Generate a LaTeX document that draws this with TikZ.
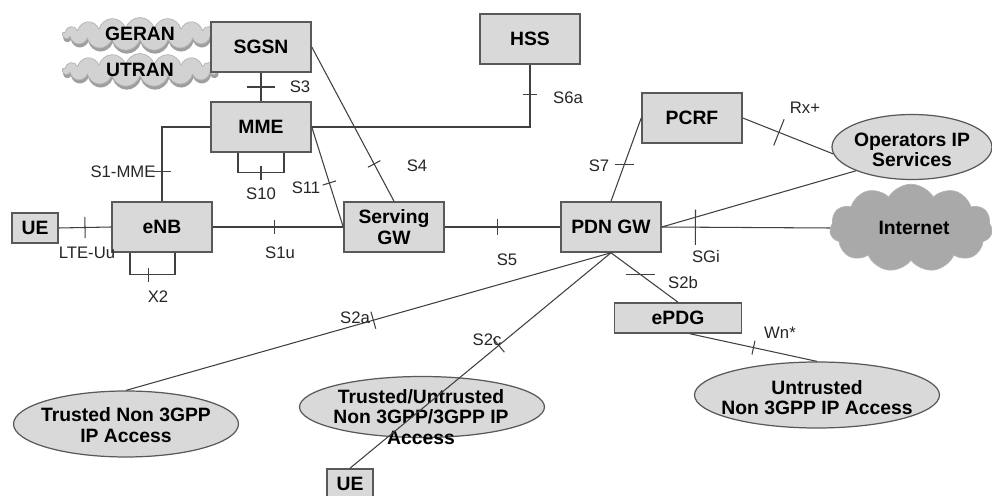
\documentclass[tikz,border=0pt]{standalone}
\usepackage{fontspec}
\setmainfont{Liberation Sans}
\usetikzlibrary{shapes.geometric,shapes.symbols,decorations.markings,shadows}

\definecolor{boxgray}{HTML}{D9D9D9}
\definecolor{cloudgray}{HTML}{D2D2D2}
\definecolor{netgray}{HTML}{A9A9A9}
\definecolor{linegray}{HTML}{404040}

\tikzset{
    conn/.style={draw=linegray, line width=0.6pt},
    box/.style={draw=gray!70!black, line width=0.9pt, fill=boxgray, minimum width=2cm, minimum height=1cm,
        inner sep=1pt, align=center, font=\fontsize{11}{11.5}\selectfont\bfseries},
    smallbox/.style={box, minimum width=0.92cm, minimum height=0.6cm},
    oval/.style={ellipse, draw=gray!70!black, line width=0.7pt, fill=boxgray, inner sep=0pt},
    ovaltext/.style={inner sep=0pt, align=center, font=\fontsize{11}{11.5}\selectfont\bfseries},
    smallcloud/.style={cloud, cloud puffs=17, cloud puff arc=150, cloud ignores aspect, draw=gray!60,
        fill=cloudgray, minimum width=3.1cm, minimum height=0.66cm,
        drop shadow={fill=gray!75, opacity=1, shadow xshift=0.5pt, shadow yshift=-2pt}},
    bigcloud/.style={cloud, cloud puffs=11, cloud puff arc=120, cloud ignores aspect, draw=gray!60,
        fill=netgray, minimum width=3.25cm, minimum height=1.75cm},
    iface/.style 2 args={postaction={decorate, decoration={markings,
        mark=at position #1 with {\draw[conn] (0,-#2) -- (0,#2);}}}},
    hiface/.style 2 args={postaction={decorate, decoration={markings,
        mark=at position #1 with {\pgftransformresetnontranslations \draw[conn] (-#2,0) -- (#2,0);}}}},
    ifl/.style={inner sep=1pt, text=black!85, font=\fontsize{9.5}{10}\selectfont},
}

\begin{document}
\begin{tikzpicture}[x=0.02cm, y=-0.02cm]
    \useasboundingbox (0,0) rectangle (992,496);
    \fill[white] (0,0) rectangle (992,496);

    \node[smallcloud] (geran) at (140,34) {};
    \node[ovaltext] (gerantext) at (140,34) {GERAN};
    \node[smallcloud] (utran) at (140,70) {};
    \node[ovaltext] (utrantext) at (140,70) {UTRAN};

    \node[box] (sgsn) at (261,47) {SGSN};
    \node[box] (mme) at (261,127) {MME};
    \node[box] (hss) at (530,39) {HSS};
    \node[box] (pcrf) at (692,118) {PCRF};
    \node[smallbox] (ue) at (35,228) {UE};
    \node[box] (enb) at (162,227) {eNB};
    \node[box] (sgw) at (394,227) {Serving\\GW};
    \node[box] (pdngw) at (611,227) {PDN GW};
    \node[box, minimum width=2.54cm, minimum height=0.6cm] (epdg) at (678,318) {ePDG};
    \node[smallbox] (uenon) at (350,484) {UE};

    \node[oval, minimum width=3.2cm, minimum height=1.3cm] (opsvc) at (912,147) {};
    \node[ovaltext] (opsvctext) at (912,150) {Operators IP\\Services};
    \node[bigcloud] (internet) at (911,228) {};
    \node[ovaltext] (internettext) at (914,228) {Internet};
    \node[oval, minimum width=4.5cm, minimum height=1.32cm] (trusted) at (126,424) {};
    \node[ovaltext] (trustedtext) at (126,425) {Trusted Non 3GPP\\IP Access};
    \node[oval, minimum width=4.9cm, minimum height=1.22cm] (trustun) at (422,407) {};
    \node[ovaltext] (trustuntext) at (421,417) {Trusted/Untrusted\\Non 3GPP/3GPP IP\\Access};
    \node[oval, minimum width=4.9cm, minimum height=1.32cm] (untrusted) at (817,395) {};
    \node[ovaltext] (untrustedtext) at (817,398) {Untrusted\\Non 3GPP IP Access};

    \draw[conn, iface={0.5}{8pt}] (sgsn.south) -- (mme.north);
    \draw[conn, iface={0.105}{4pt}] (hss.south) |- (mme.east);
    \draw[conn, iface={0.76}{5pt}] (mme.west) -| (enb.north);
    \draw[conn, iface={0.5}{4pt}] ([xshift=-0.46cm]mme.south) -- ++(0,20) -- ++(46,0) -- ++(0,-20);
    \draw[conn, iface={0.76}{4pt}] (sgsn.east) -- (sgw.north);
    \draw[conn, iface={0.56}{4pt}] (mme.east) -- (sgw.west);
    \draw[conn, iface={0.5}{6pt}] (ue.east) -- (enb.west);
    \draw[conn, iface={0.45}{4pt}] ([xshift=-0.64cm]enb.south) -- ++(0,22) -- ++(45,0) -- ++(0,-22);
    \draw[conn, iface={0.47}{4pt}] (enb.east) -- (sgw.west);
    \draw[conn, iface={0.46}{4.5pt}] (sgw.east) -- (pdngw.west);
    \draw[conn, hiface={0.56}{5.5pt}] (pcrf.west) -- (pdngw.north);
    \draw[conn, iface={0.4}{8pt}] (pcrf.east) -- (opsvc.185);
    \draw[conn] (pdngw.east) -- (opsvc.-157);
    \draw[conn, iface={0.2}{10pt}] (pdngw.east) -- (internet.west);
    \draw[conn, hiface={0.44}{8pt}] (pdngw.south) -- (epdg.north);
    \draw[conn, iface={0.49}{5pt}] (pdngw.south) -- (trusted.north);
    \draw[conn, iface={0.43}{5pt}] (pdngw.south) -- (uenon.north);
    \draw[conn, iface={0.5}{4pt}] ([xshift=0.24cm]epdg.south) -- (untrusted.north);

    \node[ifl] (ls3) at (300,87) {S3};
    \node[ifl] (ls6a) at (568,98) {S6a};
    \node[ifl] (ls1mme) at (123,172) {S1-MME};
    \node[ifl] (ls10) at (261,194) {S10};
    \node[ifl] (ls4) at (417,166) {S4};
    \node[ifl] (ls11) at (306,188) {S11};
    \node[ifl] (ls7) at (599,166) {S7};
    \node[ifl] (lrx) at (805,108) {Rx+};
    \node[ifl] (llteuu) at (87,253) {LTE-Uu};
    \node[ifl] (ls1u) at (280,253) {S1u};
    \node[ifl] (lx2) at (158,297) {X2};
    \node[ifl] (ls5) at (507,260) {S5};
    \node[ifl] (lsgi) at (706,257) {SGi};
    \node[ifl] (ls2b) at (683,283) {S2b};
    \node[ifl] (ls2a) at (355,318) {S2a};
    \node[ifl] (ls2c) at (487,340) {S2c};
    \node[ifl] (lwn) at (780,333) {Wn*};
\end{tikzpicture}
\end{document}
